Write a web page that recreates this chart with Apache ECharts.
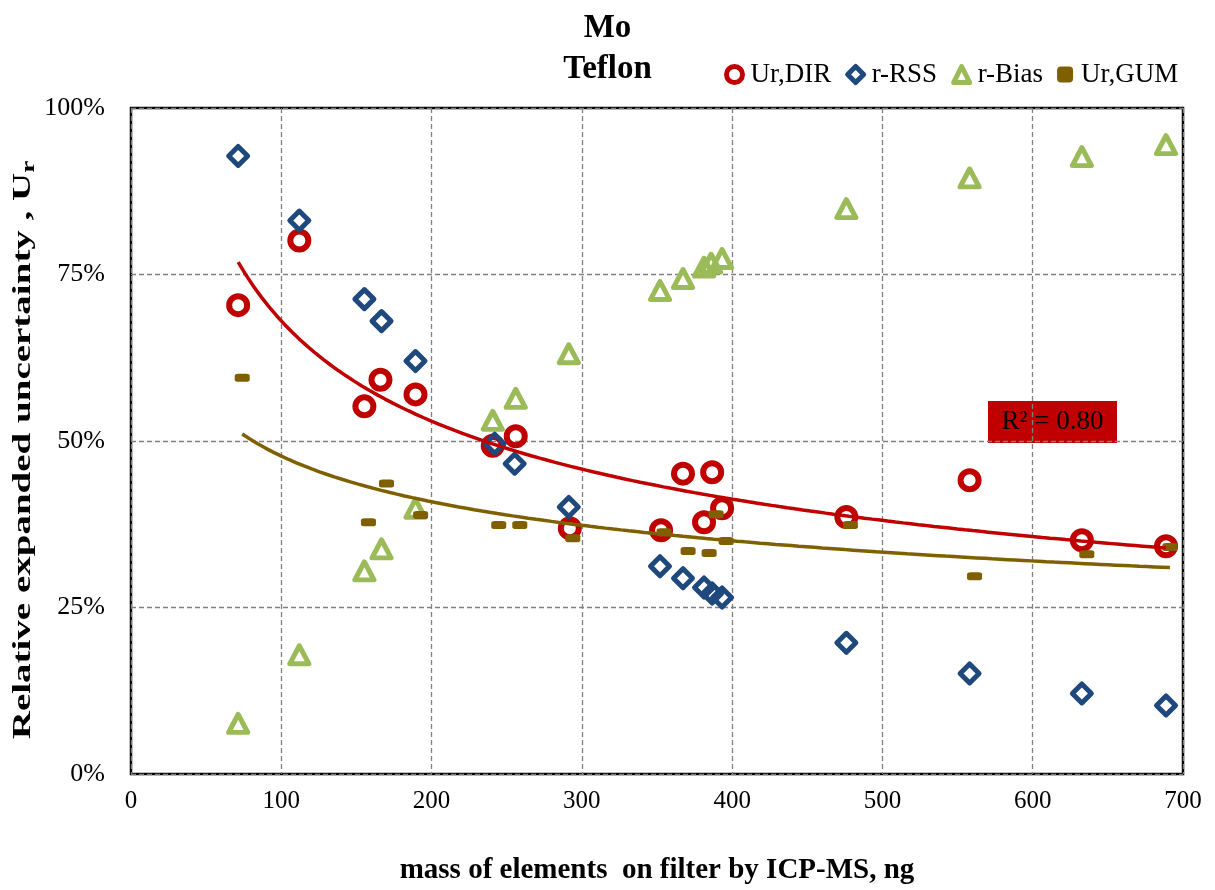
<!DOCTYPE html>
<html>
<head>
<meta charset="utf-8">
<script src="https://cdn.jsdelivr.net/npm/echarts@6/dist/echarts.min.js"></script>
<style>
  html, body { margin: 0; padding: 0; background: #fff; }
  #chart { width: 1215px; height: 890px; }
</style>
</head>
<body>
<div id="chart"></div>
<script>
// Mass of Mo on Teflon filters (ng) and relative expanded uncertainties (%)
const xDir  = [71.3, 112, 155.3, 166, 189.3, 240.7, 256, 292, 352.7, 367.3, 381.3, 386.7, 393.3, 476, 558, 632.7, 688.7];
const urDir = [70.4, 80.1, 55.2, 59.2, 57.0, 49.3, 50.7, 36.9, 36.6, 45.1, 37.8, 45.3, 39.9, 38.6, 44.1, 35.1, 34.2];

const xRss  = [71.3, 112, 155.3, 166.7, 189.3, 242, 255.3, 291.3, 352, 367.3, 381.3, 386.7, 393.3, 476, 558, 632.7, 688.7];
const rRss  = [92.8, 83.1, 71.3, 68.0, 62.0, 49.6, 46.6, 40.1, 31.2, 29.4, 28.0, 27.1, 26.5, 19.7, 15.1, 12.1, 10.3];

const xBias = [71.3, 112, 155.3, 166.7, 189.3, 240.7, 256, 291.3, 352, 367.3, 381.3, 386, 393.3, 476, 558, 632.7, 688.7];
const rBias = [7.6, 17.9, 30.5, 33.8, 39.9, 53.1, 56.4, 63.1, 72.6, 74.4, 76.1, 76.7, 77.4, 84.9, 89.5, 92.7, 94.5];

const xGum  = [74, 158, 170, 192.7, 244.7, 258.7, 294, 354.7, 370.7, 384.7, 389.3, 396, 478.7, 561.3, 636, 691.3];
const urGum = [59.5, 37.8, 43.6, 38.9, 37.4, 37.4, 35.4, 36.3, 33.5, 33.2, 39.0, 35.0, 37.4, 29.7, 33.0, 34.1];

const xTicks = [0, 100, 200, 300, 400, 500, 600, 700];
const yTicks = [0, 25, 50, 75, 100];
const seriesNames = ['Ur,DIR', 'r-RSS', 'r-Bias', 'Ur,GUM'];
const r2Text = 'R² = 0.80';

const RED = '#C00000', BLUE = '#1F497D', GREEN = '#9BBB59', BROWN = '#7F6000';
const SERIF = '"Liberation Serif", "Times New Roman", serif';

// Power-law trendline y = a * x^b, least squares on ln-ln values
function powerFit(xs, ys) {
  const lx = xs.map(Math.log), ly = ys.map(Math.log);
  const n = xs.length;
  const mx = lx.reduce((s, v) => s + v, 0) / n;
  const my = ly.reduce((s, v) => s + v, 0) / n;
  let sxy = 0, sxx = 0;
  for (let i = 0; i < n; i++) { sxy += (lx[i] - mx) * (ly[i] - my); sxx += (lx[i] - mx) ** 2; }
  const b = sxy / sxx;
  const a = Math.exp(my - b * mx);
  return { a, b };
}
function trendPoints(xs, ys) {
  const f = powerFit(xs, ys);
  const lo = Math.min(...xs), hi = Math.max(...xs);
  const pts = [];
  const steps = 120;
  for (let i = 0; i <= steps; i++) {
    const x = lo + (hi - lo) * i / steps;
    pts.push([x, f.a * Math.pow(x, f.b)]);
  }
  return pts;
}
const zip = (xs, ys) => xs.map((x, i) => [x, ys[i]]);

const hollow = (c, w) => ({ color: 'rgba(255,255,255,0)', borderColor: c, borderWidth: w, borderJoin: 'round', opacity: 1 });

const chart = echarts.init(document.getElementById('chart'), null, { renderer: 'canvas' });
chart.setOption({
  animation: false,
  backgroundColor: '#fff',
  title: {
    text: 'Mo\nTeflon',
    left: 'center',
    top: 3,
    textStyle: { fontFamily: SERIF, fontWeight: 'bold', fontSize: 33, lineHeight: 41, color: '#000' }
  },
  legend: {
    top: 56,
    left: 719,
    itemGap: 14,
    itemWidth: 16,
    itemHeight: 16,
    textStyle: { fontFamily: SERIF, fontSize: 27, color: '#000', padding: [0, 0, 0, 3] },
    data: [
      { name: seriesNames[0], icon: 'circle', itemStyle: hollow(RED, 5) },
      { name: seriesNames[1], icon: 'diamond', itemStyle: hollow(BLUE, 5) },
      { name: seriesNames[2], icon: 'triangle', itemStyle: hollow(GREEN, 5) },
      { name: seriesNames[3], icon: 'roundRect', itemStyle: { color: BROWN, opacity: 1 } }
    ]
  },
  grid: {
    left: 131, top: 108, right: 32, bottom: 113,
    show: true, borderColor: '#000', borderWidth: 2.5, backgroundColor: 'transparent'
  },
  xAxis: {
    type: 'value',
    min: xTicks[0], max: xTicks[xTicks.length - 1], interval: 100,
    name: 'mass of elements  on filter by ICP-MS, ng',
    nameLocation: 'middle',
    nameGap: 82,
    nameTextStyle: { fontFamily: SERIF, fontWeight: 'bold', fontSize: 29, color: '#000' },
    axisLine: { show: false },
    axisTick: { show: false },
    axisLabel: { fontFamily: SERIF, fontSize: 25, color: '#000', margin: 15 },
    splitLine: { show: true, lineStyle: { color: '#808080', width: 1.3, type: [5, 3] } }
  },
  yAxis: {
    type: 'value',
    min: yTicks[0], max: yTicks[yTicks.length - 1], interval: 25,
    axisLine: { show: false },
    axisTick: { show: false },
    axisLabel: { fontFamily: SERIF, fontSize: 26, color: '#000', margin: 26, formatter: '{value}%' },
    splitLine: { show: true, lineStyle: { color: '#808080', width: 1.3, type: [5, 3] } }
  },
  graphic: [
    {
      // y-axis title, drawn stretched along its reading direction
      type: 'text',
      x: 23, y: 450,
      rotation: Math.PI / 2,
      scaleX: 1.5,
      z: 100,
      style: {
        text: '{a|Relative expanded uncertainty , U}{s|r}',
        align: 'center',
        verticalAlign: 'middle',
        rich: {
          a: { fontFamily: SERIF, fontWeight: 'bold', fontSize: 26, fill: '#000' },
          s: { fontFamily: SERIF, fontWeight: 'bold', fontSize: 18, fill: '#000', padding: [12, 0, 0, 0] }
        }
      }
    },
    {
      type: 'group',
      left: 988, top: 401,
      z: 100,
      children: [
        { type: 'rect', shape: { x: 0, y: 0, width: 129, height: 42 }, style: { fill: RED } },
        { type: 'text', x: 64.5, y: 21, style: { text: r2Text, fill: '#000', font: '27px ' + SERIF, align: 'center', verticalAlign: 'middle' } }
      ]
    }
  ],
  series: [
    { name: seriesNames[0], type: 'scatter', symbol: 'circle', symbolSize: 18, data: zip(xDir, urDir), itemStyle: hollow(RED, 6), z: 3 },
    { name: seriesNames[1], type: 'scatter', symbol: 'diamond', symbolSize: 19, data: zip(xRss, rRss), itemStyle: hollow(BLUE, 5), z: 4 },
    { name: seriesNames[2], type: 'scatter', symbol: 'triangle', symbolSize: [19, 18], data: zip(xBias, rBias), itemStyle: hollow(GREEN, 5), z: 2 },
    { name: seriesNames[3], type: 'scatter', symbol: 'roundRect', symbolSize: [15, 8], data: zip(xGum, urGum), itemStyle: { color: BROWN, opacity: 1 }, z: 5 },
    { name: 'trend DIR', type: 'line', data: trendPoints(xDir, urDir), showSymbol: false, silent: true,
      lineStyle: { color: RED, width: 3.5 }, z: 6 },
    { name: 'trend GUM', type: 'line', data: trendPoints(xGum, urGum), showSymbol: false, silent: true,
      lineStyle: { color: BROWN, width: 3.5 }, z: 6 }
  ]
});
</script>
</body>
</html>
